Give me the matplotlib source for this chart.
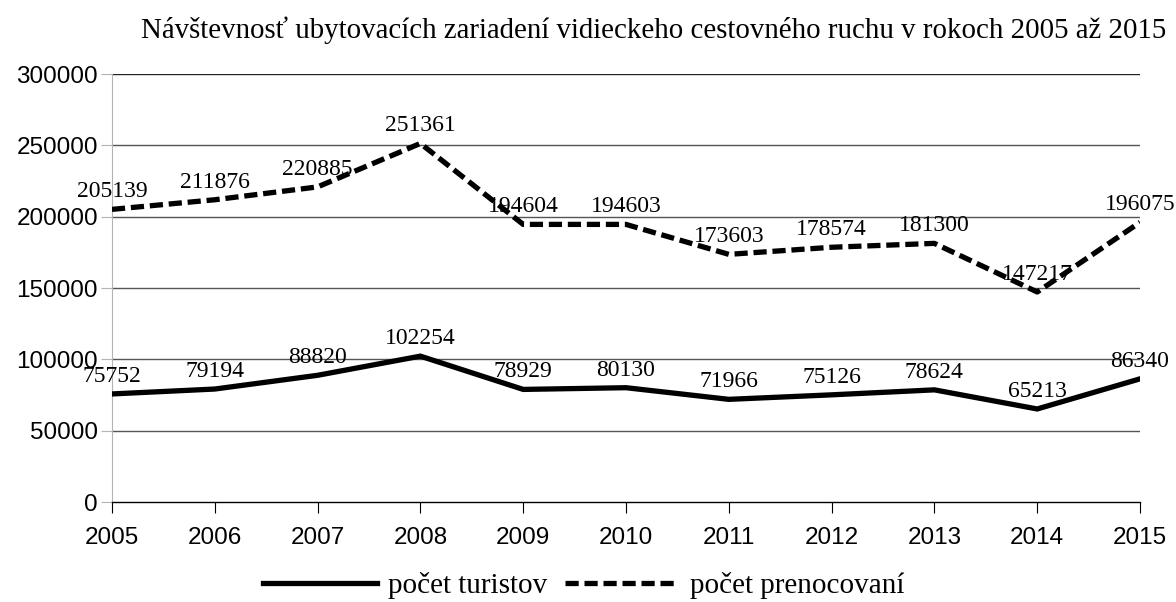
import matplotlib.pyplot as plt

years = [2005, 2006, 2007, 2008, 2009, 2010, 2011, 2012, 2013, 2014, 2015]
turisti = [75752, 79194, 88820, 102254, 78929, 80130, 71966, 75126, 78624, 65213, 86340]
prenocovania = [205139, 211876, 220885, 251361, 194604, 194603, 173603, 178574, 181300, 147217, 196075]
yticks = [0, 50000, 100000, 150000, 200000, 250000, 300000]

serif = 'Liberation Serif'
sans = 'Liberation Sans'

fig = plt.figure(figsize=(11.76, 6.02), dpi=100)
ax = fig.add_axes([0.0952, 0.1661, 0.8742, 0.7109])

# grid lines
for y in yticks[1:]:
    ax.axhline(y, color='#222222' if y == 300000 else '#555555', lw=1, zorder=1)

ax.plot(years, turisti, color='black', lw=3.8, solid_joinstyle='miter',
        label='počet turistov', zorder=3)
ax.plot(years, prenocovania, color='black', lw=3.8, dashes=(2.5, 1.1),
        label='počet prenocovaní', zorder=3)

for series in (turisti, prenocovania):
    for x, v in zip(years, series):
        ax.annotate(str(v), (x, v), xytext=(0, 5), textcoords='offset points',
                    ha='center', va='bottom', fontsize=17, family=serif,
                    annotation_clip=False, zorder=4)

ax.set_xlim(2005, 2015)
ax.set_ylim(0, 300000)
ax.set_xticks(years)
ax.set_yticks(yticks)
ax.set_xticklabels([str(y) for y in years], family=sans, fontsize=17.5)
ax.set_yticklabels([str(y) for y in yticks], family=sans, fontsize=17.5)

for s in ['top', 'right']:
    ax.spines[s].set_visible(False)
ax.spines['left'].set_color('#b3b3b3')
ax.spines['bottom'].set_color('black')
ax.spines['bottom'].set_linewidth(1)
ax.tick_params(axis='y', length=8, color='#b3b3b3', pad=2)
ax.tick_params(axis='x', length=8, color='black', pad=10)

fig.text(0.556, 0.95, 'Návštevnosť ubytovacích zariadení vidieckeho cestovného ruchu v rokoch 2005 až 2015',
         ha='center', va='center', fontsize=20.75, family=serif)

fig.legend(loc='center', bbox_to_anchor=(0.4965, 0.027), ncol=2, frameon=False,
           prop={'family': serif, 'size': 21}, handlelength=3.9, columnspacing=0.6,
           handletextpad=0.4, borderpad=0, borderaxespad=0)

fig.savefig('out.png', dpi=100)
